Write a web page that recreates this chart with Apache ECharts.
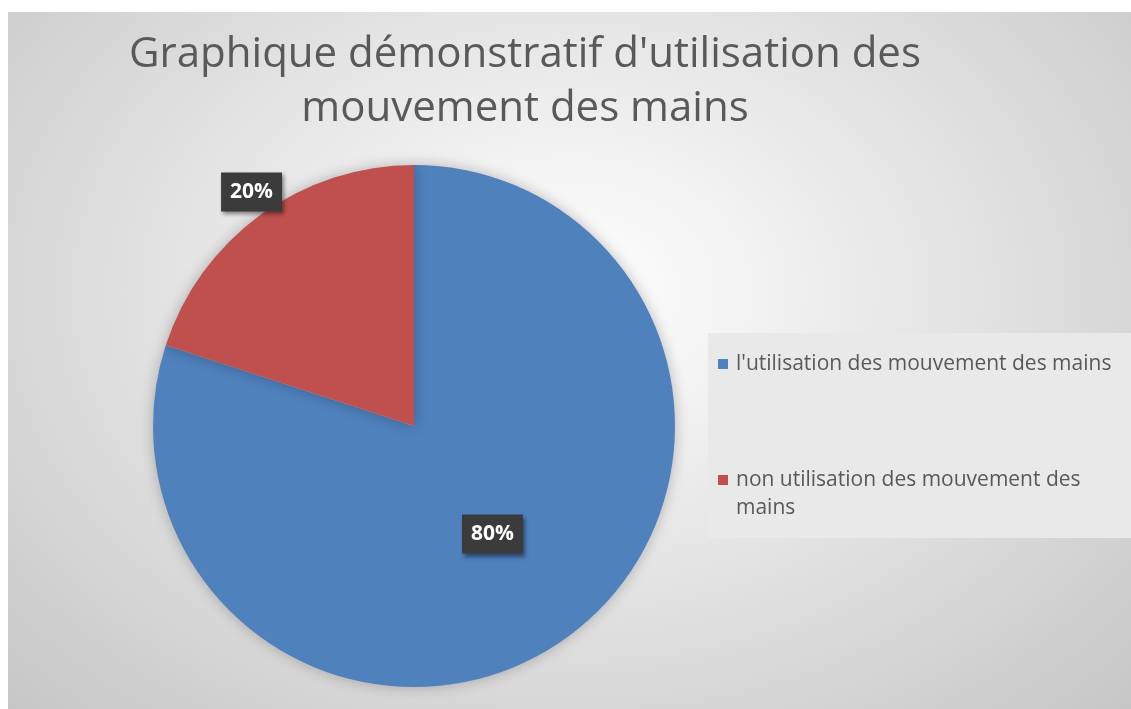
<!DOCTYPE html>
<html>
<head>
<meta charset="utf-8">
<script src="https://cdn.jsdelivr.net/npm/echarts@6/dist/echarts.min.js"></script>
<style>
    html, body { margin: 0; padding: 0; background: #fff; }
    #graph_container {
        position: absolute;
        left: 8px;
        top: 12px;
        width: 1123px;
        height: 697px;
        background: radial-gradient(ellipse at 50% 40%, #ffffff 0%, #e6e6e6 45%, #c6c6c6 100%);
    }
</style>
</head>
<body>
<div id="graph_container"></div>
<script>
;
(function(window, echarts) {

    var titleText = "Graphique démonstratif d'utilisation des\nmouvement des mains";
    var categories = ["l'utilisation des mouvement des mains", "non utilisation des mouvement des mains"];
    // blank first line keeps the 2-line entry's first line level with its icon
    var legendLabels = ["l'utilisation des mouvement des mains", " \nnon utilisation des mouvement des\nmains"];
    var values = [80, 20];
    var colors = ["#4f81bd", "#c0504d"];

    var labelBox = {
        show: true,
        position: "inside",
        formatter: "{d}%",
        color: "#ffffff",
        fontFamily: "Open Sans",
        fontWeight: "bold",
        fontSize: 21,
        lineHeight: 27,
        backgroundColor: "#3b3b3b",
        padding: [6, 9],
        shadowBlur: 4,
        shadowOffsetX: 2,
        shadowOffsetY: 3,
        shadowColor: "rgba(0,0,0,0.45)"
    };

    var pieData = categories.map(function(name, i) {
        var item = {
            name: name,
            value: values[i],
            itemStyle: { color: colors[i] }
        };
        if (i === 1) {
            // Excel put this one near the outer edge
            item.label = { offset: [-84, -126] };
        }
        return item;
    });

    var chart = echarts.init(document.getElementById("graph_container"));
    var option = {
        backgroundColor: "transparent",
        title: {
            text: titleText,
            left: 517,
            top: 16,
            padding: 0,
            textAlign: "center",
            textStyle: {
                color: "#595959",
                fontFamily: "Open Sans",
                fontWeight: "normal",
                fontSize: 42,
                lineHeight: 54
            }
        },
        legend: {
            orient: "vertical",
            left: 700,
            top: 321,
            padding: [17, 60, 16, 10],
            itemGap: 60,
            itemWidth: 10,
            itemHeight: 10,
            icon: "rect",
            backgroundColor: "#e9e9e9",
            data: categories,
            formatter: function(name) {
                return legendLabels[categories.indexOf(name)];
            },
            textStyle: {
                color: "#595959",
                fontFamily: "Open Sans",
                fontSize: 21,
                lineHeight: 28,
                padding: [0, 0, 0, 3]
            }
        },
        series: [{
            type: "pie",
            center: [406, 414],
            radius: 261,
            startAngle: 90,
            clockwise: true,
            silent: true,
            animation: false,
            label: labelBox,
            labelLine: { show: false },
            itemStyle: {
                shadowBlur: 14,
                shadowColor: "rgba(0,0,0,0.25)"
            },
            data: pieData
        }]
    };

    chart.setOption(option);

})(window, echarts)
</script>
</body>
</html>
